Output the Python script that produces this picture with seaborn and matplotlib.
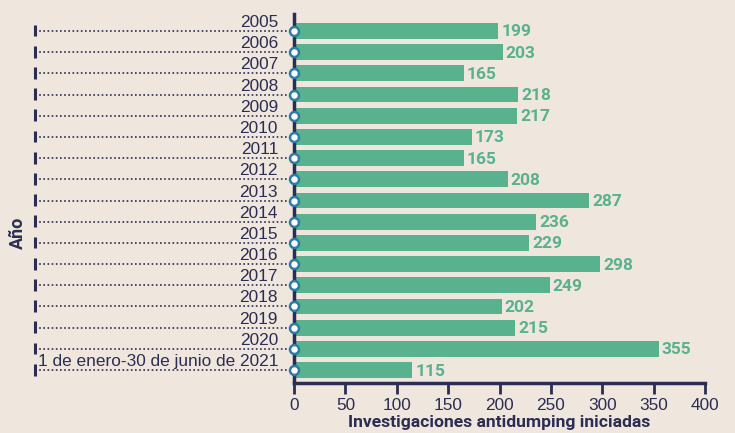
import matplotlib
matplotlib.use("Agg")
import matplotlib.pyplot as plt
import seaborn as sns
import pandas as pd
from matplotlib.transforms import blended_transform_factory

years = ["2005", "2006", "2007", "2008", "2009", "2010", "2011", "2012", "2013",
         "2014", "2015", "2016", "2017", "2018", "2019", "2020",
         "1 de enero-30 de junio de 2021"]
values = [199, 203, 165, 218, 217, 173, 165, 208, 287, 236, 229, 298, 249, 202, 215, 355, 115]
xticks = [0, 50, 100, 150, 200, 250, 300, 350, 400]

BG = "#efe6de"
GREEN = "#58b28d"
NAVY = "#2b2d52"
BLUE = "#2b7ca8"

sns.set_theme(style="white")
plt.rcParams["font.family"] = ["Liberation Sans", "DejaVu Sans"]

df = pd.DataFrame({"year": years, "value": values})

fig = plt.figure(figsize=(7.35, 4.33), dpi=100, facecolor=BG)
ax = fig.add_axes([294 / 735, 50 / 433, 411 / 735, 369 / 433])
ax.set_facecolor(BG)

sns.barplot(data=df, x="value", y="year", orient="h", color=GREEN,
            saturation=1, width=0.75, ax=ax, order=years,
            edgecolor="none", linewidth=0)

ax.set_xlim(0, 400)
ax.set_ylim(len(years) - 1 + 0.61, -0.8)
ax.set_xticks(xticks)
ax.set_xticklabels([str(t) for t in xticks], fontsize=12.4, color=NAVY)
ax.tick_params(axis="x", bottom=True, direction="out", length=8, width=2,
               color=NAVY, pad=3)
ax.set_yticks([])
ax.set_ylabel("")
ax.set_xlabel("Investigaciones antidumping iniciadas", fontsize=12.6,
              fontweight="bold", color=NAVY, family=["Roboto", "DejaVu Sans"], labelpad=1)

for s in ["top", "right"]:
    ax.spines[s].set_visible(False)
for s in ["left", "bottom"]:
    ax.spines[s].set_color(NAVY)
    ax.spines[s].set_linewidth(2.5)

# value labels
for i, v in enumerate(values):
    ax.annotate(str(v), xy=(v, i), xytext=(3, -1), textcoords="offset pixels",
                ha="left", va="center", fontsize=12.5, fontweight="bold",
                color=GREEN, family=["Roboto", "DejaVu Sans"])

# dotted guide lines, year labels, left tick marks
trans = blended_transform_factory(ax.transAxes, ax.transData)
x_left = (35 - 294) / 411
for i, lab in enumerate(years):
    ax.plot([x_left, 0], [i, i], transform=trans, clip_on=False,
            color=NAVY, linestyle=(0, (1, 1.5)), linewidth=1.2, zorder=3)
    ax.plot([x_left, x_left], [i - 0.3, i + 0.26], transform=trans, clip_on=False,
            color=NAVY, linewidth=2.2, zorder=3, solid_capstyle="butt")
    ax.annotate(lab, xy=(0, i), xycoords=trans, xytext=(-16, 1),
                textcoords="offset pixels", ha="right", va="bottom",
                fontsize=12.4, color=NAVY)

# circles on axis
ax.scatter([0] * len(years), list(range(len(years))), s=42, facecolor="white",
           edgecolor=BLUE, linewidth=1.8, zorder=5, clip_on=False)

fig.text(18 / 735, 200 / 433, "Año", rotation=90, ha="center", va="center",
         fontsize=13, fontweight="bold", color=NAVY, family=["Roboto", "DejaVu Sans"])

fig.savefig("out.png", dpi=100, facecolor=BG)
